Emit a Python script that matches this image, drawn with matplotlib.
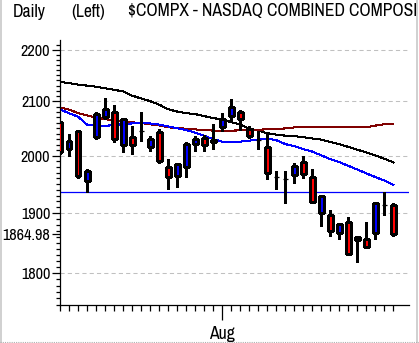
import matplotlib
matplotlib.use("Agg")
import matplotlib.pyplot as plt
from matplotlib import font_manager
from matplotlib.ticker import FixedLocator, NullFormatter
from matplotlib.lines import Line2D
from matplotlib.patches import Rectangle

# daily OHLC, oldest first
opens = [2061, 2013, 2045, 1956, 2034, 2070, 2080, 2019, 2034, 2045,
         2016, 2044, 1980, 1964, 1980, 2022, 2033, 2025, 2053, 2073,
         2080, 2048, 2028, 2015, 1963, 1958, 1966, 1989, 1963, 1900,
         1896, 1867, 1884, 1854, 1857, 1866, 1913, 1914]
highs = [2063, 2039, 2046, 1977, 2080, 2107, 2094, 2069, 2055, 2080,
         2036, 2048, 1994, 1986, 2025, 2036, 2037, 2057, 2078, 2104,
         2084, 2054, 2045, 2039, 1973, 1973, 1987, 1999, 1976, 1931,
         1905, 1882, 1894, 1861, 1885, 1918, 1935.4, 1917.5]
lows = [2003, 2000, 1961, 1936, 2031, 2067, 2025, 2006, 2004, 2027,
        2009, 1988, 1941, 1945, 1963, 2009, 2009, 2013, 2045, 2061,
        2047, 2033, 2012, 1958, 1942, 1916.5, 1951, 1961, 1918, 1878,
        1862, 1856, 1830, 1818, 1842, 1857, 1897, 1862]
closes = [2006, 2027, 1965, 1973, 2076, 2086, 2031, 2068, 2019, 2045,
          2030, 1990, 1962, 1985, 2022, 2030, 2020, 2028, 2068, 2089,
          2068, 2036, 2028, 1969, 1963, 1958, 1982, 1967, 1919, 1930,
          1869, 1881, 1832, 1860, 1843, 1917, 1913, 1864.98]

# moving averages
ma_long = [2137, 2135, 2132, 2130, 2128, 2125, 2122, 2119, 2111, 2105.6,
           2100.6, 2094, 2085.5, 2081, 2078, 2076.3, 2072.5, 2069, 2066, 2061.5,
           2057, 2049.4, 2045.7, 2041, 2038.4, 2036.5, 2035.6, 2033.8, 2031.4, 2029.3,
           2025.2, 2021, 2016, 2011, 2006, 2000.6, 1994.8, 1988.3]
ma_mid = [2088.6, 2084.7, 2078.2, 2074, 2069.7, 2066.8, 2065, 2063.4, 2061, 2059.7,
          2057.5, 2055.2, 2052, 2050.4, 2049.3, 2048, 2046.7, 2045.8, 2045.8, 2045.8,
          2046.1, 2047, 2047.4, 2048.1, 2048.7, 2049.8, 2051.6, 2052, 2052, 2052,
          2052, 2052, 2052, 2052, 2052, 2055, 2057.5, 2057.5]
ma_short = [2085, 2078, 2071.6, 2056.8, 2054.6, 2054.6, 2055.9, 2057.7, 2059, 2060.5,
            2059, 2056.8, 2053.5, 2050, 2046.7, 2042.1, 2036.2, 2030.2, 2025.6, 2024.1,
            2025.6, 2027.4, 2029.6, 2031.1, 2028.4, 2021.1, 2017.5, 2012.1, 2007.6, 2000.8,
            1993.9, 1988.8, 1982.1, 1975.5, 1968.7, 1962.2, 1956.1, 1948.2]

level = 1935.4
grid_levels = [1800, 1900, 2000, 2100, 2200]
y_labels = [1800, 1864.98, 1900, 2000, 2100, 2200]
month_ticks = {18: 'Aug'}


def narrow_font(size):
    # look for a narrow sans face, else fall back to a smaller regular one
    best = None
    for f in font_manager.fontManager.ttflist:
        if f.style != 'normal' or f.weight not in (400, 'normal', 'regular'):
            continue
        nm = f.name.lower()
        fn = f.fname.lower()
        if 'mono' in nm or 'serif' in nm or 'bold' in fn or 'italic' in fn:
            continue
        rank = None
        if 'narrow' in nm or 'narrow' in fn:
            rank = 0
        elif f.stretch in ('condensed', 'semi-condensed', 'extra-condensed') or 'condensed' in fn:
            if 'extra' in fn or 'extracondensed' in fn:
                rank = 3
            elif 'semi' in fn:
                rank = 2
            else:
                rank = 1
        if rank is not None and (best is None or rank < best[0]):
            best = (rank, f.fname)
    if best is None:
        return font_manager.FontProperties(family='DejaVu Sans', size=size * 0.75)
    return font_manager.FontProperties(fname=best[1], size=size)


fp = narrow_font(12.7)
fp_y = narrow_font(11.7)

W, H = 419, 343
fig = plt.figure(figsize=(W / 100, H / 100), dpi=100)
ax = fig.add_axes([60 / W, (H - 305.3) / H, 348.7 / W, 265.3 / H])

n = len(closes)
xs = list(range(n))
ax.set_yscale('log')

for y in grid_levels:
    ax.axhline(y, color='#c0c0c0', lw=0.75, ls=(0, (4, 3)), zorder=0)

ax.plot(xs, ma_long, color='black', lw=0.75, antialiased=False, zorder=1)
ax.plot(xs, ma_mid, color='#800000', lw=0.75, antialiased=False, zorder=1)
ax.plot(xs, ma_short, color='#0000ff', lw=0.75, antialiased=False, zorder=1)
ax.axhline(level, color='#0000ff', lw=0.9, zorder=1)

ax.vlines(xs, lows, highs, color='black', lw=0.75, antialiased=False, zorder=2)
for i in xs:
    o, c = opens[i], closes[i]
    if o == c:
        ax.hlines(c, i - 0.28, i + 0.28, color='black', lw=0.9, zorder=3)
        continue
    col = '#0000ff' if c > o else '#ff0000'
    ax.bar(i, abs(c - o), bottom=min(o, c), width=0.55, color=col,
           edgecolor='black', linewidth=0.75, antialiased=False, zorder=3)

ax.set_xlim(0, 38.7)
ax.set_ylim(1749, 2219)

for s in ['top', 'right']:
    ax.spines[s].set_visible(False)
for s in ['left', 'bottom']:
    ax.spines[s].set_linewidth(0.9)

ax.set_yticks(y_labels)
ax.set_yticklabels(['1800', '1864.98', '1900', '2000', '2100', '2200'], fontproperties=fp_y)
ax.yaxis.set_minor_locator(FixedLocator(range(1750, 2220, 10)))
ax.yaxis.set_minor_formatter(NullFormatter())
ax.tick_params(axis='y', which='major', length=6, width=0.9, pad=1)
ax.tick_params(axis='y', which='minor', length=3, width=0.9)

ax.set_xticks(list(month_ticks.keys()))
ax.set_xticklabels(list(month_ticks.values()), fontproperties=fp)
ax.xaxis.set_minor_locator(FixedLocator(xs))
ax.tick_params(axis='x', which='major', length=11, width=0.9, pad=4)
ax.tick_params(axis='x', which='minor', length=4, width=0.9)

ty = 1 - 11.5 / H
fig.text(12.7 / W, ty, 'Daily', fontproperties=fp, va='center')
fig.text(71.7 / W, ty, '(Left)', fontproperties=fp, va='center')
fig.text(128.3 / W, ty, r'\$COMPX - NASDAQ COMBINED COMPOSITE',
         fontproperties=fp, va='center')

# window frame
fig.patches.append(Rectangle((416.5 / W, 0), 3 / W, 1, transform=fig.transFigure,
                             facecolor='white', edgecolor='none', zorder=5))
fig.add_artist(Line2D([0.8 / W, 0.8 / W], [0, 1], color='#c8c8c8', lw=1.2, zorder=6))
fig.add_artist(Line2D([416.5 / W, 416.5 / W], [0, 1], color='#c8c8c8', lw=1.2, zorder=6))
fig.add_artist(Line2D([0, 1], [1 - 341.5 / H, 1 - 341.5 / H], color='#b0b0b0',
                      lw=0.8, ls=(0, (1, 1)), zorder=6))

fig.savefig('out.png', dpi=100)
